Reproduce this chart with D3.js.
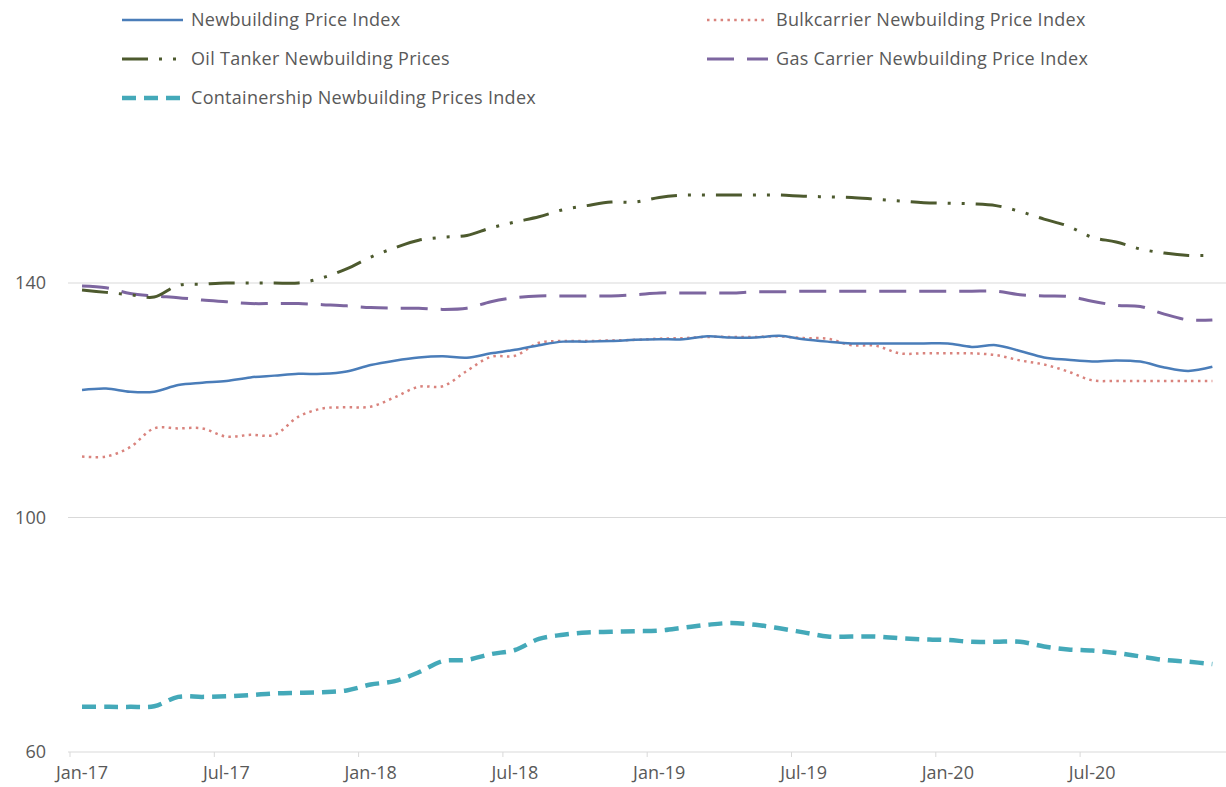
<!DOCTYPE html>
<html>
<head>
<meta charset="utf-8">
<script src="https://cdn.jsdelivr.net/npm/d3@7"></script>
<style>
  html, body { margin: 0; padding: 0; background: #fff; }
  svg { display: block; }
  text { font-family: "Open Sans", Lato, sans-serif; fill: #595959; }
</style>
</head>
<body>
<svg id="chart" width="1226" height="787"></svg>
<script>
// ---- data ----
const months = [
  "2017-01","2017-02","2017-03","2017-04","2017-05","2017-06","2017-07","2017-08","2017-09","2017-10","2017-11","2017-12",
  "2018-01","2018-02","2018-03","2018-04","2018-05","2018-06","2018-07","2018-08","2018-09","2018-10","2018-11","2018-12",
  "2019-01","2019-02","2019-03","2019-04","2019-05","2019-06","2019-07","2019-08","2019-09","2019-10","2019-11","2019-12",
  "2020-01","2020-02","2020-03","2020-04","2020-05","2020-06","2020-07","2020-08","2020-09","2020-10","2020-11","2020-12"
];
const xTickMonths = ["2017-01","2017-07","2018-01","2018-07","2019-01","2019-07","2020-01","2020-07"];
const xTickLabels = ["Jan-17","Jul-17","Jan-18","Jul-18","Jan-19","Jul-19","Jan-20","Jul-20"];
const yTicks = [60, 100, 140];

const newbuildingIndex = [121.75,122.0,121.45,121.45,122.6,123.0,123.3,123.9,124.2,124.5,
  124.5,124.9,126.0,126.75,127.3,127.5,127.25,128.0,128.6,129.4,
  130.0,130.0,130.1,130.3,130.4,130.4,130.9,130.7,130.7,131.0,
  130.4,130.0,129.7,129.7,129.7,129.7,129.7,129.1,129.4,128.4,
  127.3,126.9,126.6,126.8,126.6,125.6,125.0,125.7];
const bulkIndex = [110.4,110.4,112.0,115.2,115.2,115.2,113.8,114.1,114.1,117.2,
  118.6,118.8,118.9,120.5,122.3,122.4,125.0,127.4,127.6,129.8,
  130.1,130.1,130.2,130.3,130.5,130.6,130.8,130.8,130.8,130.9,
  130.6,130.5,129.4,129.3,128.0,128.0,128.0,128.0,127.7,126.8,
  126.1,124.9,123.4,123.3,123.3,123.3,123.3,123.3];
const oilTanker = [138.8,138.4,138.0,137.6,139.6,139.8,140.0,140.0,140.0,140.0,
  140.9,142.4,144.4,146.0,147.3,147.8,148.1,149.4,150.4,151.3,
  152.5,153.2,153.8,153.8,154.6,155.0,155.0,155.0,155.0,155.0,
  154.8,154.7,154.6,154.3,154.0,153.7,153.6,153.5,153.2,152.2,
  150.9,149.7,147.8,147.0,145.8,145.1,144.7,144.7];
const gasCarrier = [139.5,139.2,138.2,137.8,137.5,137.1,136.8,136.5,136.5,136.5,
  136.3,136.1,135.8,135.7,135.7,135.5,135.7,136.8,137.5,137.8,
  137.8,137.8,137.8,138.0,138.3,138.3,138.3,138.3,138.5,138.5,
  138.6,138.6,138.6,138.6,138.6,138.6,138.6,138.6,138.6,138.0,
  137.8,137.7,136.9,136.2,136.0,134.7,133.7,133.7];
const containership = [67.7,67.7,67.7,67.8,69.4,69.4,69.5,69.7,70.0,70.1,
  70.2,70.5,71.5,72.1,73.6,75.5,75.7,76.7,77.4,79.3,
  80.0,80.4,80.5,80.6,80.7,81.2,81.7,82.0,81.7,81.1,
  80.4,79.7,79.7,79.7,79.4,79.2,79.1,78.8,78.8,78.8,
  78.0,77.5,77.3,76.9,76.3,75.7,75.4,75.0];

const seriesNames = [
  "Newbuilding Price Index",
  "Bulkcarrier Newbuilding Price Index",
  "Oil Tanker Newbuilding Prices",
  "Gas Carrier Newbuilding Price Index",
  "Containership Newbuilding Prices Index"
];

// ---- styles ----
const styles = [
  { color: "#4A7DB9", width: 2.5, dash: null },
  { color: "#D9837D", width: 2.5, dash: "2.5,4.3" },
  { color: "#4D5A2E", width: 3, dash: "26,11,3,11,3,11" },
  { color: "#7D66A0", width: 3, dash: "27,13" },
  { color: "#44A9B9", width: 4.5, dash: "14,8" }
];
const seriesData = [newbuildingIndex, bulkIndex, oilTanker, gasCarrier, containership];
const FONT = "'Open Sans', Lato, sans-serif";

// ---- layout ----
const svg = d3.select("#chart");
const x = d3.scaleBand().domain(months).range([70, 70 + 48 * 24.05]);
const y = d3.scaleLinear().domain([60, 160]).range([752, 752 - 100 * 5.8625]);
const cx = m => x(m) + x.bandwidth() / 2;

// gridlines (100, 140)
svg.append("g").selectAll("line")
  .data(yTicks.filter(t => t > 60))
  .join("line")
  .attr("x1", 68).attr("x2", 1226)
  .attr("y1", d => y(d)).attr("y2", d => y(d))
  .attr("stroke", "#D9D9D9").attr("stroke-width", 1);

// x axis
const xAxis = d3.axisBottom(x)
  .tickValues(xTickMonths)
  .tickSize(5)
  .tickFormat((d, i) => xTickLabels[i]);
const gx = svg.append("g").attr("transform", `translate(0,${y(60)})`).call(xAxis);
gx.select(".domain").attr("d", `M68,0H1226`).attr("stroke", "#D9D9D9");
gx.selectAll(".tick line").attr("stroke", "#D9D9D9")
  .attr("transform", `translate(${-x.bandwidth() / 2},0)`);
gx.selectAll(".tick text")
  .attr("dy", "0.71em").attr("y", 14)
  .style("font-size", "18px").style("fill", "#595959")
  .style("font-family", FONT);

// y axis labels
const yAxis = d3.axisLeft(y).tickValues(yTicks).tickSize(0).tickPadding(0);
const gy = svg.append("g").attr("transform", "translate(46,0)").call(yAxis);
gy.select(".domain").remove();
gy.selectAll(".tick text")
  .style("font-size", "18px").style("fill", "#595959")
  .style("font-family", FONT);

// lines
const line = d3.line()
  .x((d, i) => cx(months[i]))
  .y(d => y(d))
  .curve(d3.curveCatmullRom.alpha(0.5));

const drawOrder = [4, 3, 2, 1, 0];
drawOrder.forEach(k => {
  const s = styles[k];
  svg.append("path")
    .datum(seriesData[k])
    .attr("fill", "none")
    .attr("stroke", s.color)
    .attr("stroke-width", s.width)
    .attr("stroke-dasharray", s.dash)
    .attr("d", line);
});

// legend
const legendPos = [
  { lx: 122, ty: 20 }, { lx: 707, ty: 20 },
  { lx: 122, ty: 59 }, { lx: 707, ty: 59 },
  { lx: 122, ty: 98 }
];
const lg = svg.append("g");
seriesNames.forEach((name, k) => {
  const p = legendPos[k], s = styles[k];
  lg.append("line")
    .attr("x1", p.lx).attr("x2", p.lx + 61)
    .attr("y1", p.ty).attr("y2", p.ty)
    .attr("stroke", s.color).attr("stroke-width", s.width)
    .attr("stroke-dasharray", s.dash);
  lg.append("text")
    .attr("x", p.lx + 69).attr("y", p.ty)
    .attr("dy", "0.35em")
    .style("font-size", "18px")
    .style("letter-spacing", "0.3px")
    .style("font-family", FONT)
    .text(name);
});
</script>
</body>
</html>
